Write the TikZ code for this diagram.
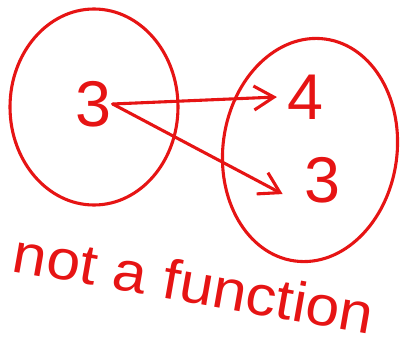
\documentclass[tikz,border=0pt]{standalone}
\usepackage{fontspec}
\setmainfont{Liberation Sans}
\usepackage{xcolor}
\usetikzlibrary{arrows.meta}

\definecolor{penred}{RGB}{230,20,20}

\begin{document}
\begin{tikzpicture}[
    x=0.25mm, y=-0.25mm,
    pen/.style={draw=penred, line width=2.2pt, line cap=round, line join=round},
    num/.style={text=penred, inner sep=1pt, font=\fontsize{46}{46}\selectfont},
    arr/.style={pen, -{Straight Barb[length=5mm, width=6mm, line width=2.2pt]}},
    every node/.style={text=penred}
]
    \useasboundingbox (0,0) rectangle (401,347);

    % Domain
    \draw[pen] (94,107) ellipse [x radius=84, y radius=98];
    \node[num] (dom3) at (93,104) {3};

    % Codomain
    \draw[pen, rotate around={-8:(310,150)}] (310,150) ellipse [x radius=87, y radius=112];
    \node[num] (cod4) at (305,97) {4};
    \node[num] (cod3) at (322,180) {3};

    % Arrows
    \draw[arr] (dom3.east) -- ([xshift=-6]cod4.west);
    \draw[arr] (dom3.east) -- ([xshift=-14, yshift=-10]cod3.west);

    % Label
    \node[font=\fontsize{40}{40}\selectfont, rotate=-10, xscale=1.08, inner sep=0pt] (lbl) at (194,283) {not a function};
\end{tikzpicture}
\end{document}
